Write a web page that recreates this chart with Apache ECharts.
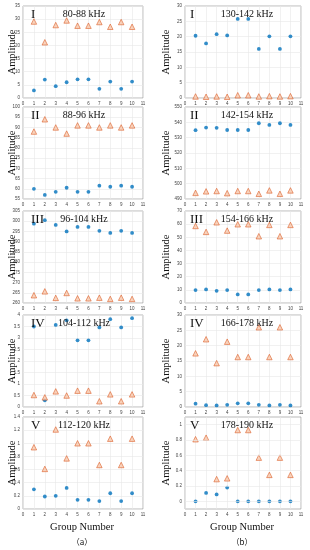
<!DOCTYPE html>
<html><head><meta charset="utf-8">
<script src="https://cdn.jsdelivr.net/npm/echarts@6/dist/echarts.min.js"></script>
<style>html,body{margin:0;padding:0;background:#fff}#c{width:310px;height:550px}</style>
</head><body><div id="c"></div>
<script>
const groups = [1,2,3,4,5,6,7,8,9,10];
const xTicks = [0,1,2,3,4,5,6,7,8,9,10,11];
const roman = ['I','II','III','IV','V'];
const bandsA = ['80-88 kHz','88-96 kHz','96-104 kHz','104-112 kHz','112-120 kHz'];
const bandsB = ['130-142 kHz','142-154 kHz','154-166 kHz','166-178 kHz','178-190 kHz'];

// column (a)
const blueA1 = [2.9,7.0,4.5,6.0,7.1,7.1,3.5,6.25,3.5,6.25];
const orangeA1 = [29.1,21.2,27.75,29.5,27.5,27.5,28.9,27.1,28.9,27.1];
const blueA2 = [60,57,58.5,60.5,58.5,58.5,61.5,61,61.5,61];
const orangeA2 = [88,94,90,87,91,91,90,91,90,91];
const blueA3 = [298.8,300.5,298.2,295,297.2,297.2,295.3,294.3,295.3,294.3];
const orangeA3 = [263.8,265.7,262.5,264.9,262.3,262.3,262.6,262,262.6,262];
const blueA4 = [3.5,0.29,3.57,3.77,2.9,2.9,3.46,3.82,3.46,3.86];
const orangeA4 = [0.52,0.42,0.68,0.5,0.71,0.71,0.25,0.55,0.25,0.55];
const blueA5 = [0.3,0.19,0.2,0.32,0.14,0.14,0.12,0.24,0.12,0.24];
const orangeA5 = [0.94,0.61,1.21,0.77,1.0,1.0,0.67,1.07,0.67,1.07];
// column (b)
const blueB1 = [20.3,17.8,20.8,20.4,25.8,25.8,16,20.1,16,20.1];
const orangeB1 = [0.5,0.4,0.5,0.4,0.9,0.9,0.5,0.6,0.5,0.6];
const blueB2 = [534.9,536.6,536.4,535,535,535,539.4,538.3,539.4,538.3];
const orangeB2 = [494,495,495.2,493.8,495.2,495.2,493.4,495.6,493.4,495.6];
const blueB3 = [9.8,10.3,9.3,9.8,6.5,6.5,9.8,10.3,9.8,10.3];
const orangeB3 = [58.6,54.1,61.4,55.1,59.9,59.9,50.8,59.4,50.8,59.4];
const blueB4 = [1.1,0.6,0.5,0.7,1.2,1.2,0.7,0.5,0.7,0.5];
const orangeB4 = [17.5,22.1,14.3,21.3,16.3,16.3,26,16.3,26,16.3];
const blueB5 = [0,0.11,0.09,0.18,0,0,0,0,0,0];
const orangeB5 = [0.81,0.83,0.29,0.3,0.93,0.93,0.57,0.345,0.57,0.345];
const gridTicksB5 = [0,0.2,0.4,0.6,0.8,1];

const yMinA = [0,55,260,0,0], yMaxA = [35,100,305,4,1.4], yStepA = [5,5,5,0.5,0.2];
const yMinB = [0,490,0,0,-0.1], yMaxB = [30,550,70,30,1.1], yStepB = [5,10,10,5,0.1];

const blueA = [blueA1,blueA2,blueA3,blueA4,blueA5];
const orangeA = [orangeA1,orangeA2,orangeA3,orangeA4,orangeA5];
const blueB = [blueB1,blueB2,blueB3,blueB4,blueB5];
const orangeB = [orangeB1,orangeB2,orangeB3,orangeB4,orangeB5];

const tops = [6,107,211,315,417];
const H = 92;
const colLeft = [23,185], colW = [120,116];
const SERIF = '"Liberation Serif","DejaVu Serif",serif';
const BLUE = '#0072BD', ORANGE = '#D95319';

const grids=[], xAxes=[], yAxes=[], series=[], graphics=[];
function addPanel(col,row,blue,orange,ymin,ymax,ystep,band,special){
  const idx = grids.length;
  grids.push({left:colLeft[col], top:tops[row], width:colW[col], height:H, show:true, borderColor:'#8a8a8a', borderWidth:0.6, backgroundColor:'#fff'});
  xAxes.push({type:'value', gridIndex:idx, min:0, max:11, interval:1,
    axisLine:{show:false}, axisTick:{show:false},
    axisLabel:{fontSize:4.5, color:'#444', margin:3, fontFamily:'Liberation Sans'},
    splitLine:{show:true, lineStyle:{color:'#e8e8e8', width:0.6}}});
  const ya = {type:'value', gridIndex:idx, min:ymin, max:ymax, interval:ystep,
    axisLine:{show:false}, axisTick:{show:false},
    axisLabel:{fontSize:4.5, color:'#444', margin:3, fontFamily:'Liberation Sans'},
    splitLine:{show:true, lineStyle:{color:'#e8e8e8', width:0.6}}};
  if (special){
    ya.splitLine = {show:false};
    ya.axisLabel.formatter = function(v){const k=Math.round(v*10); return (k>=0 && k%2===0)? String(k/10):'';};
  }
  yAxes.push(ya);
  const bs = {type:'scatter', xAxisIndex:idx, yAxisIndex:idx, symbol:'circle', symbolSize:3.8,
    itemStyle:{color:BLUE}, data:groups.map((g,i)=>[g,blue[i]]), z:3};
  if (special){
    bs.markLine = {silent:true, symbol:'none', label:{show:false}, animation:false,
      lineStyle:{color:'#e8e8e8', width:0.6, type:'solid'}, data:gridTicksB5.map(v=>({yAxis:v}))};
  }
  series.push(bs);
  series.push({type:'scatter', xAxisIndex:idx, yAxisIndex:idx, symbol:'triangle', symbolSize:5.5,
    itemStyle:{color:'#F7C9AE', borderColor:ORANGE, borderWidth:0.7}, data:groups.map((g,i)=>[g,orange[i]]), z:3});
  const cx = colLeft[col];
  graphics.push({type:'text', left:cx+(col?5:8), top:tops[row]+2, z:10,
    style:{text:roman[row], font:'13px '+SERIF, fill:'#111'}});
  graphics.push({type:'text', x:(col?247:84), y:tops[row]+8, z:10,
    style:{text:band, font:'10px '+SERIF, fill:'#111', textAlign:'center', textVerticalAlign:'middle'}});
  graphics.push({type:'text', x:(col?166:12), y:tops[row]+H/2, rotation:Math.PI/2, z:10,
    style:{text:'Amplitude', font:'10.5px '+SERIF, fill:'#111', textAlign:'center', textVerticalAlign:'middle'}});
}
for (let r=0;r<5;r++){
  addPanel(0,r,blueA[r],orangeA[r],yMinA[r],yMaxA[r],yStepA[r],bandsA[r],false);
  addPanel(1,r,blueB[r],orangeB[r],yMinB[r],yMaxB[r],yStepB[r],bandsB[r],r===4);
}
graphics.push({type:'text', x:82, y:527, style:{text:'Group Number', font:'10.5px '+SERIF, fill:'#111', textAlign:'center', textVerticalAlign:'middle'}});
graphics.push({type:'text', x:242, y:527, style:{text:'Group Number', font:'10.5px '+SERIF, fill:'#111', textAlign:'center', textVerticalAlign:'middle'}});
graphics.push({type:'text', x:82, y:542, style:{text:'（a）', font:'8px "Noto Sans CJK SC",'+SERIF, fill:'#111', textAlign:'center', textVerticalAlign:'middle'}});
graphics.push({type:'text', x:242, y:542, style:{text:'（b）', font:'8px "Noto Sans CJK SC",'+SERIF, fill:'#111', textAlign:'center', textVerticalAlign:'middle'}});

const chart = echarts.init(document.getElementById('c'), null, {renderer:'canvas'});
chart.setOption({animation:false, backgroundColor:'#fff', grid:grids, xAxis:xAxes, yAxis:yAxes, series:series, graphic:graphics});
</script></body></html>
